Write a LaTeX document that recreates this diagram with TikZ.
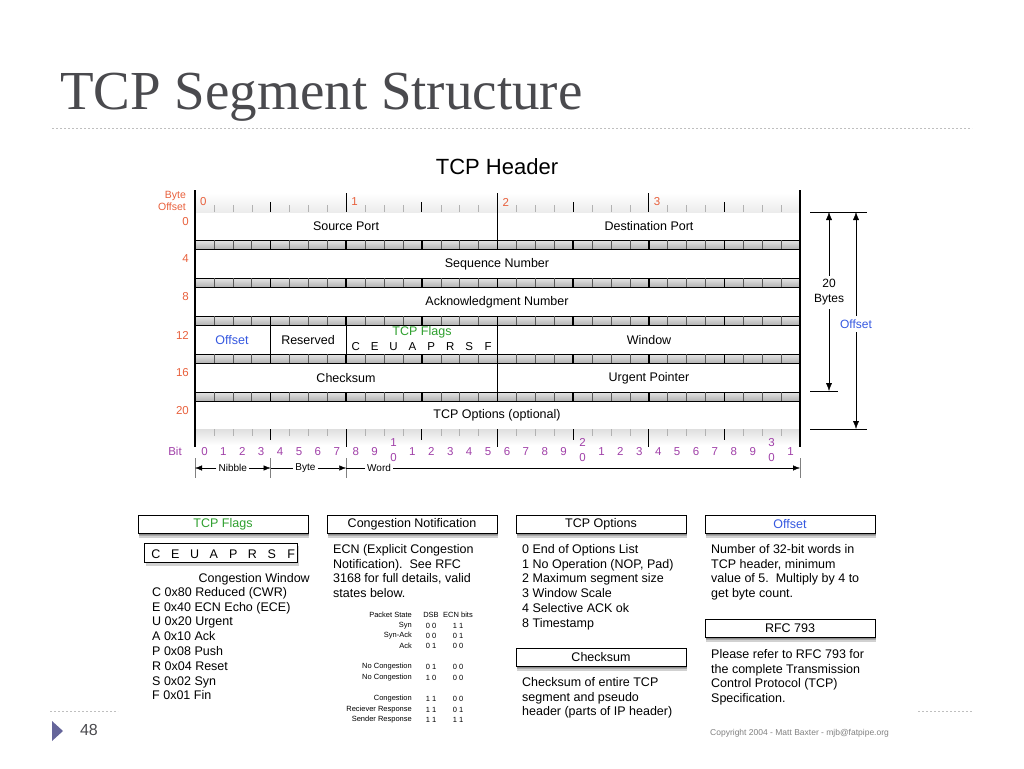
\documentclass[tikz,border=0pt]{standalone}
\usepackage{fontspec}
\setmainfont{Liberation Sans}
\newfontfamily\titlefont{Liberation Serif}
\usetikzlibrary{arrows.meta}
\definecolor{orng}{HTML}{E8603C}
\definecolor{blu}{HTML}{3558E0}
\definecolor{grn}{HTML}{2FA02F}
\definecolor{purp}{HTML}{A040A8}
\definecolor{ttl}{HTML}{4A4A4E}
\tikzset{
  lbl/.style={inner sep=0pt,font=\fontsize{12.5}{14}\selectfont},
  num/.style={inner sep=0pt,text=orng,font=\fontsize{11.5}{13}\selectfont},
  bitn/.style={inner sep=0pt,text=purp,text height=8pt,text depth=0pt,font=\fontsize{11.5}{11}\selectfont},
  body/.style={inner sep=0pt,anchor=north west,align=left,font=\fontsize{12.5}{14.8}\selectfont},
  small/.style={inner sep=0pt,font=\fontsize{7.5}{9}\selectfont},
  hbox/.style={draw=black,fill=white,minimum width=170pt,minimum height=18pt,inner sep=0pt,font=\fontsize{12.5}{14}\selectfont},
  shad/.style={fill=black,opacity=0.18},
}
\newcommand\hpanel[4]{%
  \fill[shad] (#2-84,#3) rectangle (#2+86,#3+14);
  \fill[shad] (#2-84,#3) rectangle (#2+86,#3+12);
  \fill[shad] (#2-84,#3) rectangle (#2+86,#3+10.5);
  \node[hbox,#4] (#1) at (#2,#3) }
\begin{document}
\begin{tikzpicture}[x=1pt,y=-1pt]
\useasboundingbox (0,0) rectangle (1024,768);
\def\L{195}\def\W{18.906}
% title
\node[inner sep=0pt,anchor=west,text=ttl,font=\titlefont\fontsize{55}{58}\selectfont] (title) at (60,97) {TCP Segment Structure};
\draw[gray!50,dash pattern=on 2pt off 2pt] (52,128) -- (972,128);
\node[inner sep=0pt,font=\fontsize{22}{24}\selectfont] (hdr) at (497,167) {TCP Header};
% rows
\foreach \t/\b in {212/240,249/278,287/316,325/354,363/392,401/429}{
  \draw[fill=white] (\L,\t) rectangle (800,\b);}
% strips
\foreach \t/\b in {240/249,278/287,316/325,354/363,392/401}{
  \shade[top color=gray!20,bottom color=gray!60] (\L,\t) rectangle (800,\b);
  \draw (\L,\t) rectangle (800,\b);
  \foreach \i in {1,...,31}{
    \pgfmathsetmacro\xx{\L+\i*\W}
    \pgfmathtruncatemacro\m{mod(\i,4)}
    \ifnum\m=0 \draw[line width=1.6pt] (\xx,\t) -- (\xx,\b); \else \draw[gray!70!black,line width=0.5pt] (\xx,\t) -- (\xx,\b); \fi}
}
% top tick row
\shade[top color=white,bottom color=gray!15] (\L,193) rectangle (800,212);
\foreach \i in {1,...,31}{
  \pgfmathsetmacro\xx{\L+\i*\W}
  \pgfmathtruncatemacro\m{mod(\i,8)}
  \pgfmathtruncatemacro\n{mod(\i,4)}
  \ifnum\m=0 \draw[line width=1.4pt] (\xx,193) -- (\xx,212);
  \else\ifnum\n=0 \draw[line width=1.2pt] (\xx,202) -- (\xx,212);
  \else \draw[gray!60] (\xx,205) -- (\xx,212); \fi\fi}
% bottom tick row
\shade[top color=gray!25,bottom color=white] (\L,429) rectangle (800,445);
\foreach \i in {1,...,31}{
  \pgfmathsetmacro\xx{\L+\i*\W}
  \pgfmathtruncatemacro\m{mod(\i,8)}
  \pgfmathtruncatemacro\n{mod(\i,4)}
  \ifnum\m=0 \draw[line width=1.4pt] (\xx,429) -- (\xx,447);
  \else\ifnum\n=0 \draw[line width=1.2pt] (\xx,429) -- (\xx,440);
  \else \draw[gray!60] (\xx,429) -- (\xx,436); \fi\fi}
% frame lines
\draw[line width=2.4pt] (\L,190) -- (\L,447);
\draw[line width=2.4pt] (800,190) -- (800,447);
% row dividers
\foreach \i/\t/\b in {16/212/240,16/363/392,4/325/354,8/325/354,16/325/354}{
  \draw (\L+\i*\W,\t) -- (\L+\i*\W,\b);}
% byte numbers
\foreach \i/\k in {0/0,8/1,16/2,24/3}{
  \node[num,anchor=west] (byte\k) at (\L+\i*\W+5,202) {\k};}
\node[inner sep=0pt,text=orng,align=right,font=\fontsize{10.5}{11.5}\selectfont] (bo) at (172,201) {Byte\\Offset};
\foreach \v/\y in {0/222,4/259,8/297,12/335,16/373,20/411}{
  \node[num,anchor=east] (off\v) at (189,\y) {\v};}
% row texts
\node[lbl] (sp) at (346,226) {Source Port};
\node[lbl] (dp) at (649,226) {Destination Port};
\node[lbl] (sn) at (497,264) {Sequence Number};
\node[lbl] (an) at (497,302) {Acknowledgment Number};
\node[lbl,text=blu] (of) at (232,340) {Offset};
\node[lbl] (rs) at (308,340) {Reserved};
\node[lbl,text=grn] (tf) at (422,332) {TCP Flags};
\foreach \c [count=\k from 8] in {C,E,U,A,P,R,S,F}{
  \node[lbl,font=\fontsize{11.5}{12}\selectfont] (fl\k) at (\L+\k*\W+\W/2,347) {\c};}
\node[lbl] (wn) at (649,340) {Window};
\node[lbl] (cs) at (346,378) {Checksum};
\node[lbl] (up) at (649,378) {Urgent Pointer};
\node[lbl] (op) at (497,415) {TCP Options (optional)};
% bit numbers
\node[bitn] (bit) at (175,451) {Bit};
\foreach \i in {0,...,31}{
  \pgfmathtruncatemacro\d{mod(\i,10)}
  \pgfmathtruncatemacro\t{\i/10}
  \pgfmathsetmacro\xx{\L+\i*\W+\W/2}
  \ifnum\d=0 \ifnum\t>0
     \node[bitn] (bt\i) at (\xx,442) {\t};
     \node[bitn] (bb\i) at (\xx,457) {0};
   \else \node[bitn] (b\i) at (\xx,451) {\d}; \fi
  \else \node[bitn] (b\i) at (\xx,451) {\d}; \fi}
% nibble / byte / word
\foreach \i in {0,4,8}{\draw[gray] (\L+\i*\W,458) -- (\L+\i*\W,478);}
\draw[gray] (800,458) -- (800,478);
\tikzset{nbw/.style={inner sep=2pt,font=\fontsize{10}{10}\selectfont}}
\node[nbw] (nib) at (\L+2*\W,468) {Nibble};
\node[nbw] (byt) at (\L+6*\W-3,468) {Byte};
\node[nbw] (wrd) at (\L+10*\W-5,468) {Word};
\draw[-{Latex[length=7pt]}] (nib.west) -- (\L,468);
\draw[-{Latex[length=7pt]}] (nib.east) -- (\L+4*\W,468);
\draw[-{Latex[length=7pt]}] (byt.east) -- (\L+8*\W,468);
\draw[-{Latex[length=7pt]}] (wrd.east) -- (800,468);
\draw (byt.west) -- (\L+4*\W,468);
\draw (wrd.west) -- (\L+8*\W,468);
% right dimension
\coordinate (r1) at (810,212); \coordinate (r2) at (867,212);
\coordinate (r3) at (810,391); \coordinate (r4) at (838,391);
\coordinate (r5) at (810,429); \coordinate (r6) at (867,429);
\draw (r1) -- (r2); \draw (r3) -- (r4); \draw (r5) -- (r6);
\node[inner sep=0pt,align=center,font=\fontsize{12}{15}\selectfont] (tb) at (829,292) {20\\Bytes};
\coordinate (tbt) at (829,276); \coordinate (tbb) at (829,309);
\draw[-{Latex[length=8pt]}] (tbt) -- (r1 -| tbt);
\draw[-{Latex[length=8pt]}] (tbb) -- (r3 -| tbb);
\node[inner sep=0pt,text=blu,font=\fontsize{12}{14}\selectfont] (ob) at (856,324) {Offset};
\coordinate (obt) at (856,316); \coordinate (obb) at (856,332);
\draw[-{Latex[length=8pt]}] (obt) -- (r2 -| obt);
\draw[-{Latex[length=8pt]}] (obb) -- (r6 -| obb);
% panels
\hpanel{p1}{223}{524}{text=grn} {TCP Flags};
\hpanel{p2}{412}{524}{} {Congestion Notification};
\hpanel{p3}{601}{524}{} {TCP Options};
\hpanel{p4}{790}{524}{text=blu} {Offset};
\hpanel{p5}{601}{657}{} {Checksum};
\hpanel{p6}{790}{628}{} {RFC 793};
\fill[shad] (146,546) rectangle (299,566);
\node[draw,line width=1.2pt,fill=white,minimum width=153pt,minimum height=19pt,inner sep=0pt] (fbox) at (221,553) {};
\foreach \c [count=\k from 0] in {C,E,U,A,P,R,S,F}{
  \node[lbl] (fb\k) at (156+\k*19.3,554) {\c};}
\node[lbl,anchor=east] (cw) at (310,579) {Congestion Window};
\node[body] (flist) at (152,587) {C 0x80 Reduced (CWR)\\E 0x40 ECN Echo (ECE)\\U 0x20 Urgent\\A 0x10 Ack\\P 0x08 Push\\R 0x04 Reset\\S 0x02 Syn\\F 0x01 Fin};
\node[body] (ecn) at (333,544) {ECN (Explicit Congestion\\Notification).\ \ See RFC\\3168 for full details, valid\\states below.};
\foreach \a/\d/\e/\y in {Packet State/DSB/ECN bits/615,Syn/0 0/1 1/626,Syn-Ack/0 0/0 1/636,Ack/0 1/0 0/646,No Congestion/0 1/0 0/667,No Congestion/1 0/0 0/678,Congestion/1 1/0 0/699,Reciever Response/1 1/0 1/710,Sender Response/1 1/1 1/720}{
  \node[small,anchor=east] at (412,\y) {\a};
  \node[small] at (431,\y) {\d};
  \node[small] at (458,\y) {\e};}
\node[body] (olist) at (522,544) {0 End of Options List\\1 No Operation (NOP, Pad)\\2 Maximum segment size\\3 Window Scale\\4 Selective ACK ok\\8 Timestamp};
\node[body] (cstext) at (522,677) {Checksum of entire TCP\\segment and pseudo\\header (parts of IP header)};
\node[body] (oftext) at (711,544) {Number of 32-bit words in\\TCP header, minimum\\value of 5.\ \ Multiply by 4 to\\get byte count.};
\node[body] (rfctext) at (711,649) {Please refer to RFC 793 for\\the complete Transmission\\Control Protocol (TCP)\\Specification.};
\node[inner sep=0pt,anchor=west,text=gray,font=\fontsize{8.5}{9}\selectfont] (copy) at (710,733) {Copyright 2004 - Matt Baxter - mjb@fatpipe.org};
% footer
\draw[gray!50,dash pattern=on 2pt off 2pt] (50,711) -- (118,711);
\draw[gray!50,dash pattern=on 2pt off 2pt] (918,711) -- (972,711);
\fill[gray!30!blue!30!gray] (52,721) -- (63,731) -- (52,741) -- cycle;
\node[inner sep=0pt,text=ttl,font=\fontsize{16}{16}\selectfont] (pg) at (89,730) {48};
\end{tikzpicture}
\end{document}
